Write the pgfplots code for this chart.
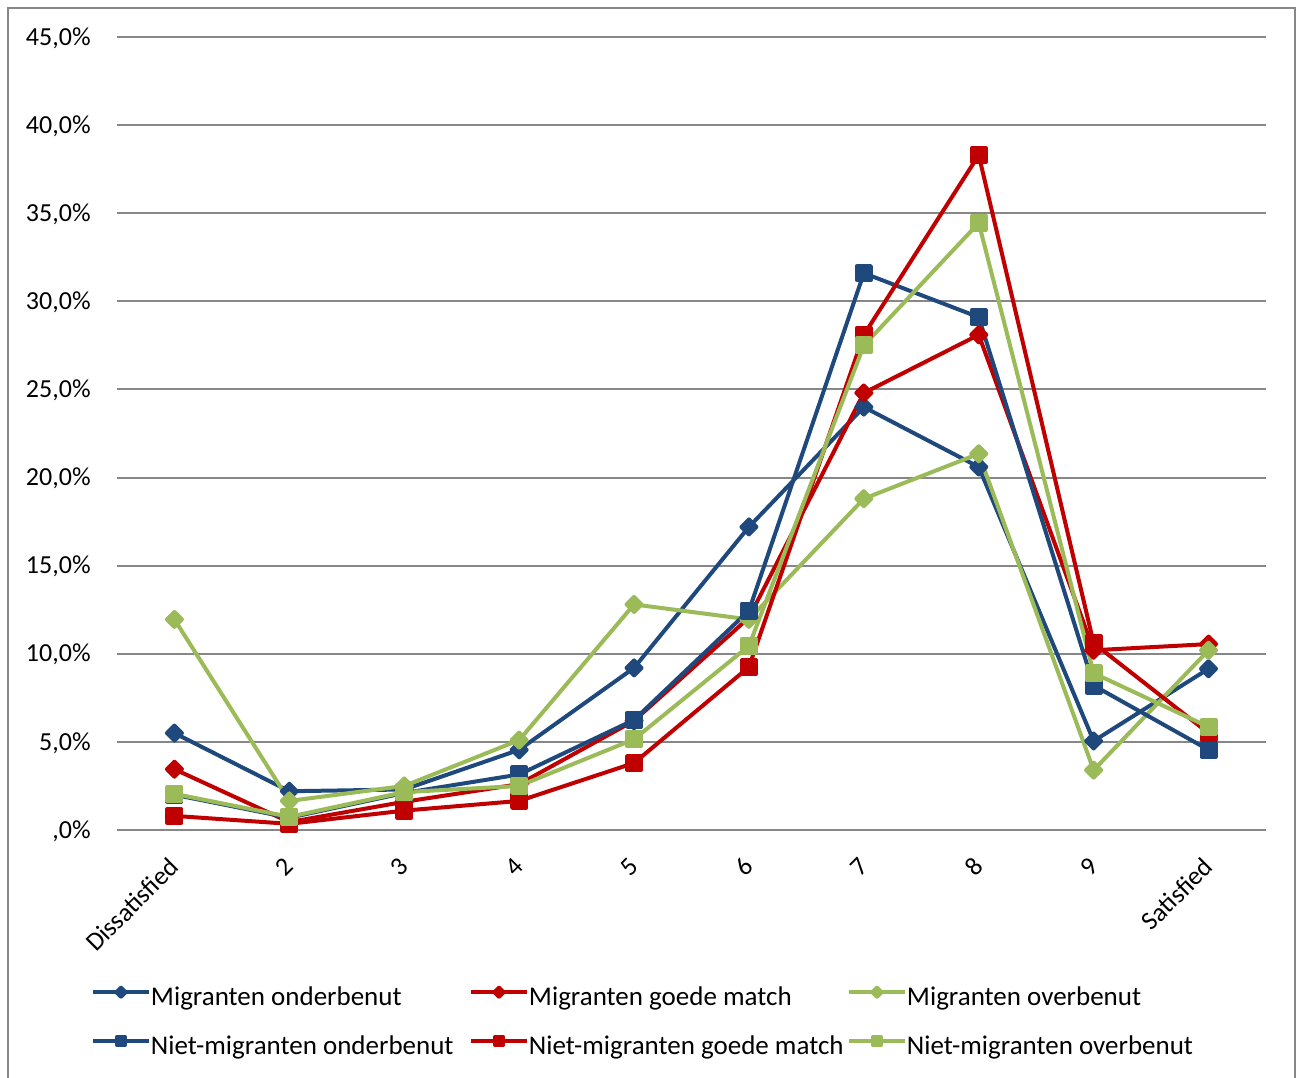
\documentclass[border=0pt]{standalone}
\usepackage{pgfplots}
\pgfplotsset{compat=1.18}
\usepackage{fontspec}
\setmainfont{Carlito}
\definecolor{cblue}{HTML}{1F497D}
\definecolor{cred}{HTML}{C00000}
\definecolor{cgreen}{HTML}{9BBB59}
\definecolor{cgrid}{HTML}{878787}
\begin{document}
\begin{tikzpicture}[x=1pt,y=1pt]
\useasboundingbox (-58.5,-123.5) rectangle (592,415);
\draw[cgrid, line width=1pt] (-54.5,-140) -- (-54.5,411) -- (589,411) -- (589,-140);
\begin{axis}[
  at={(0,0)}, anchor=south west,
  scale only axis, width=574.5pt, height=396.5pt,
  xmin=-0.5, xmax=9.5, ymin=0, ymax=45,
  axis line style={draw=none},
  major tick length=0pt,
  ytick={0,5,...,45},
  yticklabels={{,0\%},{5,0\%},{10,0\%},{15,0\%},{20,0\%},{25,0\%},{30,0\%},{35,0\%},{40,0\%},{45,0\%}},
  xtick={0,...,9},
  xticklabels={Dissatisfied,2,3,4,5,6,7,8,9,Satisfied},
  ymajorgrids,
  major grid style={cgrid, line width=1pt},
  tick label style={font=\fontsize{13}{15}\selectfont, inner sep=0pt},
  yticklabel style={anchor=base east, xshift=-13pt, yshift=-4.1pt},
  xticklabel style={anchor=east, xshift=0pt, yshift=-16pt, rotate=45},
  legend columns=3,
  legend style={draw=none, fill=none, at={(0,0)}, anchor=north west, xshift=-13pt, yshift=-78.85pt,
    inner sep=0pt, outer sep=0pt, column sep=0pt, row sep=12.4pt,
    font=\fontsize{13.5}{15}\selectfont,
    nodes={inner sep=0pt, text height=9pt, text depth=3pt}},
  legend image code/.code={\draw[#1, mark repeat=2, mark phase=2, every mark/.append style={scale=0.6}] plot coordinates {(0pt,3.85pt) (14pt,3.85pt) (28pt,3.85pt)};},
  every axis plot/.append style={line width=2pt, line join=round},
  clip=false,
]
\addplot[cblue, mark=square*, mark size=2.65pt, mark options={rotate=45}] coordinates {(0,5.5) (1,2.2) (2,2.3) (3,4.55) (4,9.2) (5,17.2) (6,24.0) (7,20.6) (8,5.05) (9,9.15)};
\addlegendentry{\makebox[159pt][l]{Migranten onderbenut}}
\addplot[cred, mark=square*, mark size=2.65pt, mark options={rotate=45}] coordinates {(0,3.45) (1,0.45) (2,1.6) (3,2.6) (4,6.2) (5,12.05) (6,24.8) (7,28.1) (8,10.2) (9,10.55)};
\addlegendentry{\makebox[159pt][l]{Migranten goede match}}
\addplot[cgreen, mark=square*, mark size=2.65pt, mark options={rotate=45}] coordinates {(0,11.95) (1,1.65) (2,2.5) (3,5.1) (4,12.8) (5,11.95) (6,18.8) (7,21.35) (8,3.4) (9,10.2)};
\addlegendentry{\makebox[159pt][l]{Migranten overbenut}}
\addplot[cblue, mark=square*, mark size=3.5pt] coordinates {(0,2.0) (1,0.7) (2,2.1) (3,3.15) (4,6.25) (5,12.45) (6,31.6) (7,29.1) (8,8.2) (9,4.55)};
\addlegendentry{\makebox[159pt][l]{Niet-migranten onderbenut}}
\addplot[cred, mark=square*, mark size=3.5pt] coordinates {(0,0.8) (1,0.35) (2,1.1) (3,1.65) (4,3.8) (5,9.25) (6,28.1) (7,38.3) (8,10.6) (9,5.5)};
\addlegendentry{\makebox[159pt][l]{Niet-migranten goede match}}
\addplot[cgreen, mark=square*, mark size=3.5pt] coordinates {(0,2.05) (1,0.75) (2,2.15) (3,2.5) (4,5.15) (5,10.45) (6,27.5) (7,34.45) (8,8.9) (9,5.85)};
\addlegendentry{\makebox[159pt][l]{Niet-migranten overbenut}}
\end{axis}
\end{tikzpicture}
\end{document}
